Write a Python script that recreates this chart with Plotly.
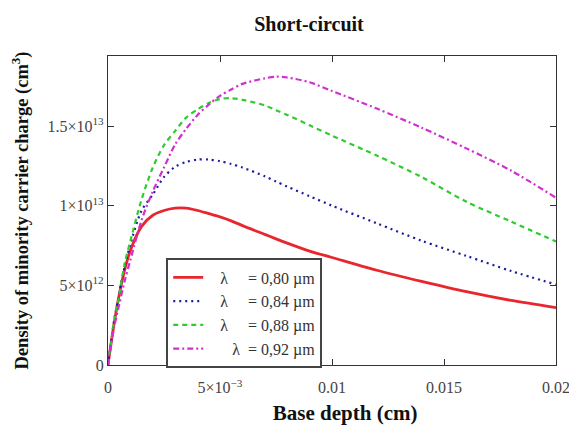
import plotly.graph_objects as go

# Base depth (cm)
x = [0, 0.00025, 0.0005, 0.00075, 0.001, 0.0015, 0.002, 0.0025, 0.003, 0.0035,
     0.004, 0.0045, 0.005, 0.0055, 0.006, 0.007, 0.0075, 0.008, 0.009, 0.010,
     0.012, 0.014, 0.016, 0.018, 0.020]

# Density of minority carrier charge, in units of 1e12 cm^-3
red_080 = [0, 2.4, 4.4, 6.0, 7.2, 8.7, 9.4, 9.7, 9.85, 9.85,
           9.7, 9.5, 9.3, 9.05, 8.75, 8.2, 7.92, 7.65, 7.15, 6.75,
           5.95, 5.25, 4.6, 4.05, 3.6]
blue_084 = [0, 2.6, 4.5, 6.2, 7.6, 9.7, 10.7, 11.8, 12.45, 12.75,
            12.9, 12.9, 12.8, 12.62, 12.4, 11.85, 11.52, 11.2, 10.6, 10.0,
            8.9, 7.8, 6.85, 5.9, 5.05]
green_088 = [0, 2.5, 4.4, 6.4, 7.8, 10.4, 12.4, 13.8, 14.7, 15.55,
             16.05, 16.45, 16.7, 16.75, 16.65, 16.3, 16.0, 15.7, 15.05, 14.4,
             13.15, 11.8, 10.25, 9.0, 7.75]
magenta_092 = [0, 2.2, 3.8, 5.3, 6.6, 9.1, 10.9, 12.4, 13.85, 14.85,
               15.7, 16.35, 16.9, 17.3, 17.65, 18.0, 18.1, 18.05, 17.75, 17.2,
               16.1, 14.9, 13.6, 12.2, 10.5]

NB = "\u00a0"
series_names = [NB * 3 + "\u03bb" + NB * 5 + "= 0,80 \u00b5m",
                NB * 3 + "\u03bb" + NB * 5 + "= 0,84 \u00b5m",
                NB * 3 + "\u03bb" + NB * 5 + "= 0,88 \u00b5m",
                NB * 6 + "\u03bb" + NB * 2 + "= 0,92 \u00b5m"]

x_tickvals = [0, 0.005, 0.01, 0.015, 0.02]
x_ticktext = ["0", "5\u00d710<sup>\u22123</sup>", "0.01", "0.015", "0.02"]
y_tickvals = [0, 5e12, 1e13, 1.5e13]
y_ticktext = ["0", "5\u00d710<sup>12</sup>", "1\u00d710<sup>13</sup>", "1.5\u00d710<sup>13</sup>"]

scale = 1e12
styles = [
    dict(color="#e8262e", width=2.8, dash="solid"),
    dict(color="#1c1c9e", width=2.2, dash="2px,4px"),
    dict(color="#2ecc2e", width=2.2, dash="5px,4px"),
    dict(color="#d030d0", width=2.2, dash="6px,3px,2px,3px"),
]

fig = go.Figure()
for ys, name, st in zip([red_080, blue_084, green_088, magenta_092], series_names, styles):
    fig.add_trace(go.Scatter(
        x=x, y=[v * scale for v in ys], mode="lines", name=name,
        line=dict(color=st["color"], width=st["width"], dash=st["dash"], shape="spline", smoothing=0.8),
    ))

font_family = "Liberation Serif, Times New Roman, serif"

fig.update_layout(
    width=569, height=430,
    margin=dict(l=108, r=13, t=56, b=65),
    paper_bgcolor="white", plot_bgcolor="white",
    font=dict(family=font_family, color="#222"),
    title=dict(text="<b>Short-circuit</b>", x=0.543, xanchor="center", y=0.945, yanchor="middle",
               font=dict(size=20, color="#111")),
    showlegend=True,
    legend=dict(x=0.13, y=0.345, xanchor="left", yanchor="top",
                bgcolor="white", bordercolor="#444", borderwidth=2,
                font=dict(size=16, color="#333"), tracegroupgap=0, itemwidth=30),
)
fig.update_xaxes(
    range=[0, 0.02], tickvals=x_tickvals, ticktext=x_ticktext, automargin=False,
    ticklabeloverflow="allow",
    showgrid=False, zeroline=False, showline=True, linecolor="#333", linewidth=1.2, mirror="allticks",
    ticks="inside", ticklen=6, tickcolor="#333", ticklabelstandoff=8,
    tickfont=dict(size=16, color="#444"),
    title=dict(text="<b>" + NB * 5 + "Base depth (cm)</b>", font=dict(size=21, color="#111"), standoff=10),
)
fig.update_yaxes(
    range=[0, 1.94e13], tickvals=y_tickvals, ticktext=y_ticktext, automargin=False,
    ticklabeloverflow="allow",
    showgrid=False, zeroline=False, showline=True, linecolor="#333", linewidth=1.2, mirror="allticks",
    ticks="inside", ticklen=6, tickcolor="#333",
    tickfont=dict(size=16, color="#444"),
    title=dict(text="<b>Density of minority carrier charge (cm<sup>3</sup>)</b>", font=dict(size=18.5, color="#111"), standoff=14),
)

fig.write_html("out.html")
